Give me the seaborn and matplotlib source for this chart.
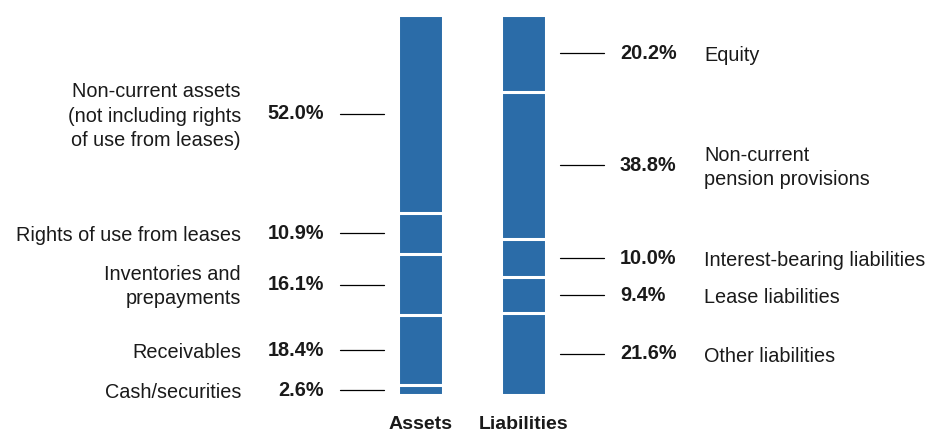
import matplotlib
matplotlib.use("Agg")
import matplotlib.pyplot as plt
import seaborn as sns
import numpy as np

# data
sides = ["Assets", "Liabilities"]
asset_labels = ["Non-current assets\n(not including rights\nof use from leases)",
                "Rights of use from leases", "Inventories and\nprepayments",
                "Receivables", "Cash/securities"]
asset_values = [52.0, 10.9, 16.1, 18.4, 2.6]
liab_labels = ["Equity", "Non-current\npension provisions",
               "Interest-bearing liabilities", "Lease liabilities",
               "Other liabilities"]
liab_values = [20.2, 38.8, 10.0, 9.4, 21.6]

BLUE = "#2b6ca8"
TEXT = "#1a1a1a"
FS = 14.3

sns.set_theme(style="white")
plt.rcParams["font.family"] = ["Liberation Sans", "DejaVu Sans"]

W, H = 928, 432
fig = plt.figure(figsize=(W / 100, H / 100), dpi=100)
ax = fig.add_axes([0, 37 / H, 1, 380 / H])

# cumulative heights from the bottom (segments listed top to bottom)
a_cum = np.cumsum(asset_values[::-1])[::-1]
l_cum = np.cumsum(liab_values[::-1])[::-1]

# overlap bars: tallest first, white edges form the separators
for a, l in zip(a_cum, l_cum):
    sns.barplot(x=sides, y=[a, l], color=BLUE, saturation=1, width=0.43,
                edgecolor="white", linewidth=2.2, ax=ax)

# pixel -> data helper for x (category 0 at px 420.5, 103 px per unit)
def px(x):
    return (x - 420.5) / 103.0

ax.set_xlim(px(0), px(W))
ax.set_ylim(0, 100)
sns.despine(ax=ax, left=True, bottom=True)
ax.set_yticks([])
ax.set_ylabel("")
ax.set_xlabel("")
ax.tick_params(axis="x", length=0, pad=15, labelsize=14)
for t in ax.get_xticklabels():
    t.set_fontweight("bold")
    t.set_color(TEXT)

# asset annotations
a_mid = a_cum - np.array(asset_values) / 2
for lab, v, y in zip(asset_labels, asset_values, a_mid):
    ax.plot([px(340), px(384)], [y, y], color="black", lw=0.9)
    ax.text(px(324), y, f"{v:.1f}%", ha="right", va="center",
            fontsize=FS, fontweight="bold", color=TEXT)
    ax.text(px(241), y - 0.6, lab, ha="right", va="center", fontsize=FS,
            color=TEXT, linespacing=1.34, multialignment="right")

# liability annotations
l_mid = l_cum - np.array(liab_values) / 2
for lab, v, y in zip(liab_labels, liab_values, l_mid):
    ax.plot([px(560), px(604)], [y, y], color="black", lw=0.9)
    ax.text(px(620), y, f"{v:.1f}%", ha="left", va="center",
            fontsize=FS, fontweight="bold", color=TEXT)
    ax.text(px(704), y - 0.6, lab, ha="left", va="center", fontsize=FS,
            color=TEXT, linespacing=1.34)

fig.savefig("out.png", dpi=100)
